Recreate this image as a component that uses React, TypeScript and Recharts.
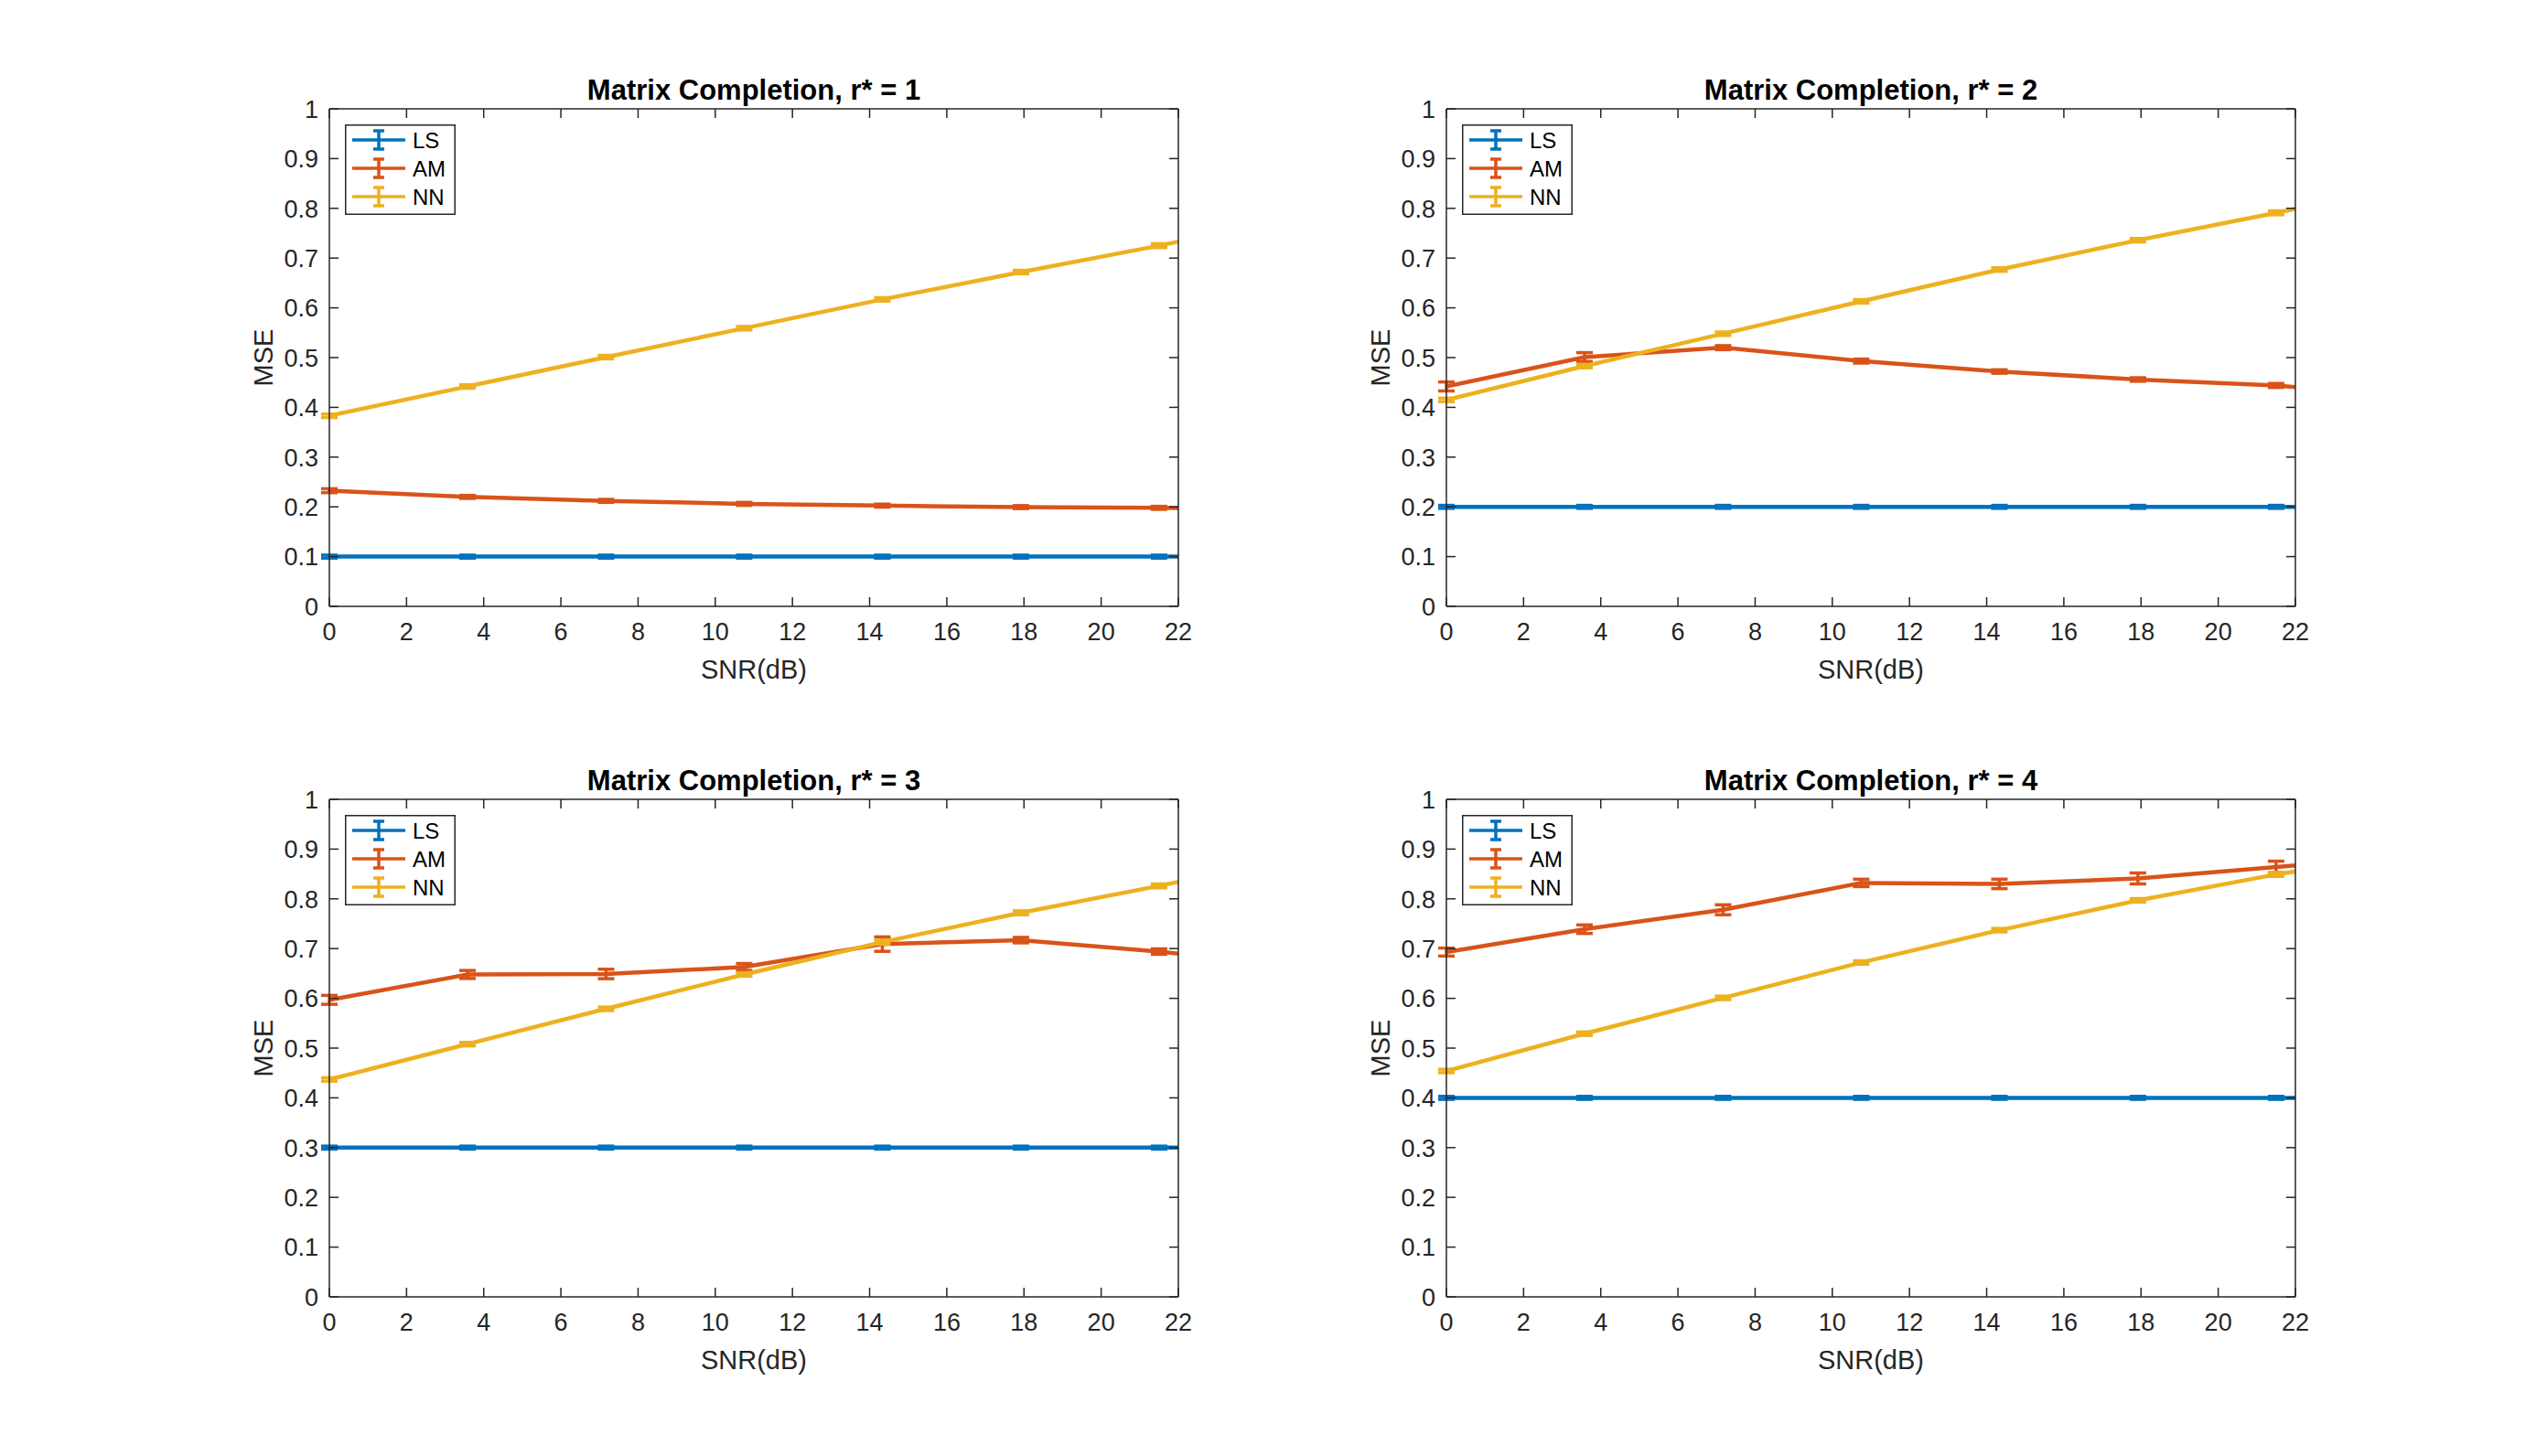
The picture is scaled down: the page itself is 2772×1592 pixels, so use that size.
import React from 'react';
import { LineChart, Line, XAxis, YAxis, ErrorBar, Legend } from 'recharts';

// ---------------- data ----------------
const snr = [0, 3.58, 7.17, 10.75, 14.33, 17.92, 21.5, 25.08];
const xTicks = [0, 2, 4, 6, 8, 10, 12, 14, 16, 18, 20, 22];
const yTicks = [0, 0.1, 0.2, 0.3, 0.4, 0.5, 0.6, 0.7, 0.8, 0.9, 1];
const seriesNames = ['LS', 'AM', 'NN'];
const seriesColors = ['#0072BD', '#D95319', '#EDB120'];
const titles = [
  'Matrix Completion, r* = 1',
  'Matrix Completion, r* = 2',
  'Matrix Completion, r* = 3',
  'Matrix Completion, r* = 4',
];

const ls1 = [0.1, 0.1, 0.1, 0.1, 0.1, 0.1, 0.1, 0.1];
const am1 = [0.2325, 0.22, 0.212, 0.206, 0.2025, 0.1995, 0.198, 0.1945];
const nn1 = [0.383, 0.442, 0.501, 0.559, 0.617, 0.672, 0.725, 0.782];
const lsErr1 = [0.003, 0.003, 0.003, 0.003, 0.003, 0.003, 0.003, 0.003];
const amErr1 = [0.004, 0.003, 0.003, 0.003, 0.003, 0.003, 0.003, 0.003];
const nnErr1 = [0.0035, 0.0035, 0.0035, 0.0035, 0.0035, 0.0035, 0.004, 0.004];

const ls2 = [0.2, 0.2, 0.2, 0.2, 0.2, 0.2, 0.2, 0.2];
const am2 = [0.442, 0.501, 0.52, 0.493, 0.472, 0.456, 0.444, 0.422];
const nn2 = [0.415, 0.483, 0.548, 0.613, 0.677, 0.736, 0.791, 0.848];
const lsErr2 = [0.003, 0.003, 0.003, 0.003, 0.003, 0.003, 0.003, 0.003];
const amErr2 = [0.009, 0.009, 0.004, 0.004, 0.0035, 0.0035, 0.004, 0.004];
const nnErr2 = [0.0035, 0.0035, 0.0035, 0.0035, 0.0035, 0.0035, 0.004, 0.004];

const ls3 = [0.3, 0.3, 0.3, 0.3, 0.3, 0.3, 0.3, 0.3];
const am3 = [0.597, 0.648, 0.649, 0.663, 0.709, 0.717, 0.694, 0.665];
const nn3 = [0.437, 0.508, 0.579, 0.648, 0.713, 0.772, 0.826, 0.883];
const lsErr3 = [0.003, 0.003, 0.003, 0.003, 0.003, 0.003, 0.003, 0.003];
const amErr3 = [0.009, 0.008, 0.0095, 0.007, 0.0145, 0.0055, 0.0055, 0.005];
const nnErr3 = [0.0035, 0.0035, 0.0035, 0.0035, 0.004, 0.004, 0.004, 0.004];

const ls4 = [0.4, 0.4, 0.4, 0.4, 0.4, 0.4, 0.4, 0.4];
const am4 = [0.693, 0.739, 0.778, 0.832, 0.83, 0.841, 0.864, 0.886];
const nn4 = [0.454, 0.529, 0.601, 0.672, 0.737, 0.797, 0.849, 0.892];
const lsErr4 = [0.003, 0.003, 0.003, 0.003, 0.003, 0.003, 0.003, 0.003];
const amErr4 = [0.008, 0.0086, 0.01, 0.0074, 0.0095, 0.011, 0.0117, 0.01];
const nnErr4 = [0.0035, 0.0035, 0.0035, 0.0035, 0.0035, 0.0035, 0.004, 0.004];

function buildRows(ls: number[], am: number[], nn: number[], lsE: number[], amE: number[], nnE: number[]) {
  return snr.map((x, i) => ({
    snr: x,
    LS: ls[i],
    AM: am[i],
    NN: nn[i],
    LSerr: lsE[i],
    AMerr: amE[i],
    NNerr: nnE[i],
  }));
}

const panels = [
  buildRows(ls1, am1, nn1, lsErr1, amErr1, nnErr1),
  buildRows(ls2, am2, nn2, lsErr2, amErr2, nnErr2),
  buildRows(ls3, am3, nn3, lsErr3, amErr3, nnErr3),
  buildRows(ls4, am4, nn4, lsErr4, amErr4, nnErr4),
];

// ---------------- layout ----------------
const FONT = '"Liberation Sans", Arial, Helvetica, sans-serif';
const AX = '#262626';
const PLOT_W = 928;
const PLOT_H = 544;
const YW = 110; // left axis area
const TOPH = 1; // top mirror axis height
const RW = 1; // right mirror axis width
const MT = 79; // top margin (plot top = MT + TOPH = 80)
const MR = 39;
const XH = 100; // bottom axis area
const CW = YW + PLOT_W + RW + MR;
const CH = MT + TOPH + PLOT_H + XH;
const TICK_LEN = 10;
const panelLeft = [360, 1581, 360, 1581];
const panelTop = [119, 119, 874, 874];

const fmtY = (v: number) => String(Math.round(v * 10) / 10);

const XTickBottom = (p: any) => (
  <g>
    <line x1={p.x} x2={p.x} y1={p.y} y2={p.y - TICK_LEN} stroke={AX} strokeWidth={1.5} />
    <text x={p.x} y={p.y + 37} textAnchor="middle" fontSize={27} fill={AX} fontFamily={FONT}>
      {String(p.payload.value)}
    </text>
  </g>
);
const XTickTop = (p: any) => (
  <line x1={p.x} x2={p.x} y1={p.y} y2={p.y + TICK_LEN} stroke={AX} strokeWidth={1.5} />
);
const YTickLeft = (p: any) => (
  <g>
    <line x1={p.x} x2={p.x + TICK_LEN} y1={p.y} y2={p.y} stroke={AX} strokeWidth={1.5} />
    <text x={p.x - 12} y={p.y + 9.7} textAnchor="end" fontSize={27} fill={AX} fontFamily={FONT}>
      {fmtY(p.payload.value)}
    </text>
  </g>
);
const YTickRight = (p: any) => (
  <line x1={p.x} x2={p.x - TICK_LEN} y1={p.y} y2={p.y} stroke={AX} strokeWidth={1.5} />
);

const LEG_W = 121;
const LEG_H = 99;
const legendRows = [17, 48, 79];

function LegendBox(props: any) {
  const payload: any[] = props.payload || [];
  const items = seriesNames.map((n, i) => {
    const found = payload.find((p) => p.value === n);
    return { name: n, color: (found && found.color) || seriesColors[i] };
  });
  return (
    <svg width={LEG_W} height={LEG_H} style={{ display: 'block' }}>
      <rect x={0.75} y={0.75} width={LEG_W - 1.5} height={LEG_H - 1.5} fill="#fff" stroke={AX} strokeWidth={1.5} />
      {items.map((it, i) => {
        const cy = legendRows[i];
        return (
          <g key={it.name}>
            <line x1={8} x2={66} y1={cy} y2={cy} stroke={it.color} strokeWidth={3.5} />
            <line x1={37} x2={37} y1={cy - 10} y2={cy + 10} stroke={it.color} strokeWidth={3.5} />
            <line x1={31} x2={43} y1={cy - 10} y2={cy - 10} stroke={it.color} strokeWidth={3.5} />
            <line x1={31} x2={43} y1={cy + 10} y2={cy + 10} stroke={it.color} strokeWidth={3.5} />
            <text x={74} y={cy + 8.6} fontSize={24} fill="#000" fontFamily={FONT}>
              {it.name}
            </text>
          </g>
        );
      })}
    </svg>
  );
}

function Panel({ idx }: { idx: number }) {
  const rows = panels[idx];
  const title = titles[idx];
  const plotTop = MT + TOPH;
  return (
    <div style={{ position: 'absolute', left: panelLeft[idx] - YW, top: panelTop[idx] - plotTop, width: CW, height: CH }}>
      <LineChart width={CW} height={CH} data={rows} margin={{ top: MT, right: MR, bottom: 0, left: 0 }}>
        <XAxis
          xAxisId={0}
          type="number"
          dataKey="snr"
          domain={[0, 22]}
          allowDataOverflow
          ticks={xTicks}
          interval={0}
          height={XH}
          tickSize={0}
          tickMargin={0}
          tickLine={false}
          axisLine={{ stroke: AX, strokeWidth: 1.5 }}
          tick={XTickBottom}
          label={{
            position: 'insideTop',
            content: (lp: any) => {
              const vb = lp.viewBox || { x: YW, y: plotTop + PLOT_H, width: PLOT_W, height: XH };
              return (
                <text x={vb.x + vb.width / 2} y={vb.y + 79} textAnchor="middle" fontSize={29} fill={AX} fontFamily={FONT}>
                  SNR(dB)
                </text>
              );
            },
          }}
        />
        <XAxis
          xAxisId="top"
          orientation="top"
          type="number"
          dataKey="snr"
          domain={[0, 22]}
          allowDataOverflow
          ticks={xTicks}
          interval={0}
          height={TOPH}
          tickSize={0}
          tickMargin={0}
          tickLine={false}
          axisLine={{ stroke: AX, strokeWidth: 1.5 }}
          tick={XTickTop}
          label={{
            position: 'top',
            content: (lp: any) => {
              const vb = lp.viewBox || { x: YW, y: MT, width: PLOT_W, height: TOPH };
              const baseY = vb.y + vb.height;
              return (
                <text x={vb.x + vb.width / 2} y={baseY - 10} textAnchor="middle" fontSize={31} fontWeight="bold" fill="#000" fontFamily={FONT}>
                  {title}
                </text>
              );
            },
          }}
        />
        <YAxis
          yAxisId={0}
          type="number"
          domain={[0, 1]}
          allowDataOverflow
          ticks={yTicks}
          interval={0}
          width={YW}
          tickSize={0}
          tickMargin={0}
          tickLine={false}
          axisLine={{ stroke: AX, strokeWidth: 1.5 }}
          tick={YTickLeft}
          label={{
            position: 'insideLeft',
            content: (lp: any) => {
              const vb = lp.viewBox || { x: 0, y: plotTop, width: YW, height: PLOT_H };
              const cx = vb.x + 38;
              const cy = vb.y + vb.height / 2;
              return (
                <text x={cx} y={cy + 10.4} transform={`rotate(-90 ${cx} ${cy})`} textAnchor="middle" fontSize={29} fill={AX} fontFamily={FONT}>
                  MSE
                </text>
              );
            },
          }}
        />
        <YAxis
          yAxisId="right"
          orientation="right"
          type="number"
          domain={[0, 1]}
          allowDataOverflow
          ticks={yTicks}
          interval={0}
          width={RW}
          tickSize={0}
          tickMargin={0}
          tickLine={false}
          axisLine={{ stroke: AX, strokeWidth: 1.5 }}
          tick={YTickRight}
        />
        <Legend
          layout="horizontal"
          verticalAlign="middle"
          align="center"
          wrapperStyle={{ position: 'absolute', left: YW + 17, top: plotTop + 17, width: LEG_W, height: LEG_H }}
          content={LegendBox}
        />
        {seriesNames.map((n, i) => (
          <Line
            key={n}
            xAxisId={0}
            yAxisId={0}
            type="linear"
            dataKey={n}
            name={n}
            stroke={seriesColors[i]}
            strokeWidth={4.5}
            dot={false}
            activeDot={false}
            isAnimationActive={false}
          >
            <ErrorBar dataKey={n + 'err'} width={9} strokeWidth={3.5} stroke={seriesColors[i]} direction="y" isAnimationActive={false} />
          </Line>
        ))}
      </LineChart>
    </div>
  );
}

export default function App() {
  return (
    <div style={{ position: 'absolute', left: 0, top: 0, width: 2772, height: 1592, background: '#fff', overflow: 'hidden' }}>
      {[0, 1, 2, 3].map((i) => (
        <Panel key={i} idx={i} />
      ))}
    </div>
  );
}
